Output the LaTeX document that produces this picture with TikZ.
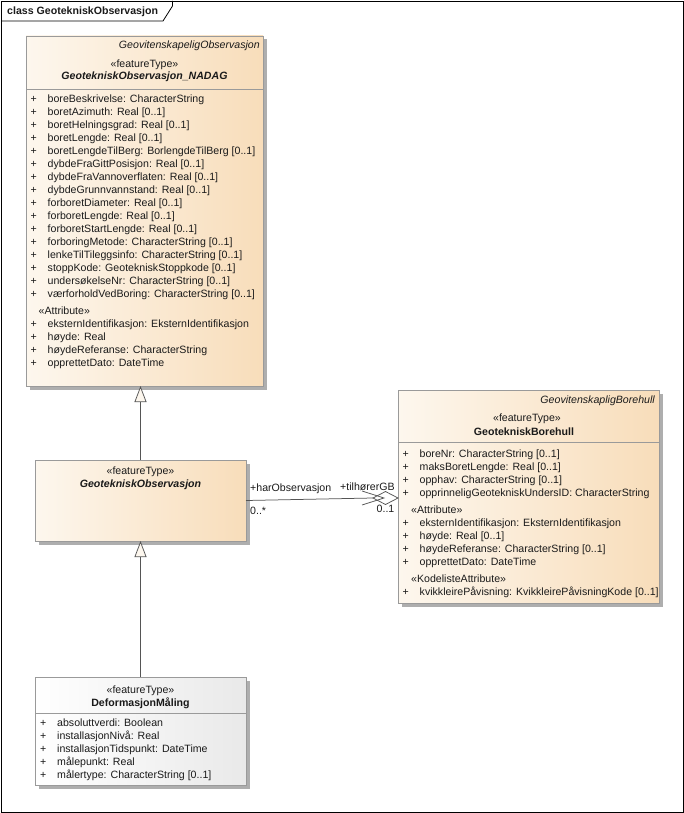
\documentclass[tikz,border=0pt]{standalone}
\usepackage{fontspec}
\setmainfont{Liberation Sans}
\usetikzlibrary{arrows.meta,shadows,calc}
\definecolor{peachL}{HTML}{FDF7EE}
\definecolor{peachR}{HTML}{F8DDBA}
\definecolor{grayL}{HTML}{FFFFFF}
\definecolor{grayR}{HTML}{E9E9E9}
\definecolor{boxline}{HTML}{9A9A9A}
\definecolor{shadowc}{HTML}{AEAEAE}
\definecolor{linec}{HTML}{555555}
\definecolor{txtc}{HTML}{1A1A1A}
\begin{document}
\begin{tikzpicture}[x=1pt,y=-1pt,
  font=\fontsize{10.6pt}{13pt}\selectfont,
  classbox/.style={draw=boxline, line width=0.7pt, inner sep=0pt, outer sep=0pt, anchor=north west,
    drop shadow={shadow xshift=3.5pt, shadow yshift=-3.5pt, opacity=1, fill=shadowc}},
  featbox/.style={classbox, left color=peachL, right color=peachR},
  whitebox/.style={classbox, left color=grayL, right color=grayR},
  txt/.style={inner sep=0pt, anchor=base west, text=txtc},
  ctxt/.style={inner sep=0pt, anchor=base, text=txtc},
  rtxt/.style={inner sep=0pt, anchor=base east, text=txtc},
  sep/.style={draw=boxline, line width=0.7pt},
  gen/.style={draw=linec, line width=0.75pt, -{Triangle[length=16pt,width=12pt,fill=peachL]}},
  assoc/.style={draw=linec, line width=0.75pt},
]
\useasboundingbox (0,0) rectangle (684,813);
% frame
\draw[line width=0.8pt] (1,1) rectangle (683,812);
\draw[line width=0.8pt] (1,21) -- (163,21) -- (172.5,6) -- (172.5,1);
\node[txt] (frametitle) at (7,14.5) {\bfseries class GeotekniskObservasjon};

% boxes
\node[featbox, minimum width=237pt, minimum height=350pt] (nadag) at (26,36) {};
\node[featbox, minimum width=211pt, minimum height=81pt] (go) at (35,460) {};
\node[featbox, minimum width=261pt, minimum height=213pt] (bh) at (398,390) {};
\node[whitebox, minimum width=211pt, minimum height=108pt] (def) at (35,677) {};

% separators
\draw[sep] ($(nadag.north west)+(0,53)$) -- ($(nadag.north east)+(0,53)$);
\draw[sep] ($(bh.north west)+(0,52.5)$) -- ($(bh.north east)+(0,52.5)$);
\draw[sep] ($(def.north west)+(0,36.5)$) -- ($(def.north east)+(0,36.5)$);

% NADAG header
\node[rtxt] (nadagpar) at (260,48.5) {\itshape GeovitenskapeligObservasjon};
\node[ctxt] (nadagst) at (144.5,67.5) {«featureType»};
\node[ctxt] (nadagname) at (144.5,79.5) {\bfseries\itshape GeotekniskObservasjon\_NADAG};
\foreach \t [count=\i] in {{boreBeskrivelse: CharacterString},
  {boretAzimuth: Real [0..1]},
  {boretHelningsgrad: Real [0..1]},
  {boretLengde: Real [0..1]},
  {boretLengdeTilBerg: BorlengdeTilBerg [0..1]},
  {dybdeFraGittPosisjon: Real [0..1]},
  {dybdeFraVannoverflaten: Real [0..1]},
  {dybdeGrunnvannstand: Real [0..1]},
  {forboretDiameter: Real [0..1]},
  {forboretLengde: Real [0..1]},
  {forboretStartLengde: Real [0..1]},
  {forboringMetode: CharacterString [0..1]},
  {lenkeTilTileggsinfo: CharacterString [0..1]},
  {stoppKode: GeotekniskStoppkode [0..1]},
  {undersøkelseNr: CharacterString [0..1]},
  {værforholdVedBoring: CharacterString [0..1]}} {
  \node[txt] (nap\i) at (30.5,{102.5+13*(\i-1)}) {+};
  \node[txt] (na\i) at (47.5,{102.5+13*(\i-1)}) {\t};
}
\node[txt] (nadagattr) at (38.5,314.5) {«Attribute»};
\foreach \t [count=\i] in {{eksternIdentifikasjon: EksternIdentifikasjon},
  {høyde: Real},
  {høydeReferanse: CharacterString},
  {opprettetDato: DateTime}} {
  \node[txt] (nbp\i) at (30.5,{327.5+13*(\i-1)}) {+};
  \node[txt] (nb\i) at (47.5,{327.5+13*(\i-1)}) {\t};
}

% GeotekniskObservasjon
\node[ctxt] (gost) at (140.5,474.3) {«featureType»};
\node[ctxt] (goname) at (140.5,487.3) {\bfseries\itshape GeotekniskObservasjon};

% Borehull
\node[rtxt] (bhpar) at (655,403.3) {\itshape GeovitenskapligBorehull};
\node[ctxt] (bhst) at (527,421.7) {«featureType»};
\node[ctxt] (bhname) at (524,435.7) {\bfseries GeotekniskBorehull};
\foreach \t [count=\i] in {{boreNr: CharacterString [0..1]},
  {maksBoretLengde: Real [0..1]},
  {opphav: CharacterString [0..1]},
  {opprinneligGeotekniskUndersID: CharacterString}} {
  \node[txt] (bap\i) at (402.5,{457+13*(\i-1)}) {+};
  \node[txt] (ba\i) at (419.5,{457+13*(\i-1)}) {\t};
}
\node[txt] (bhattr) at (411,513) {«Attribute»};
\foreach \t [count=\i] in {{eksternIdentifikasjon: EksternIdentifikasjon},
  {høyde: Real [0..1]},
  {høydeReferanse: CharacterString [0..1]},
  {opprettetDato: DateTime}} {
  \node[txt] (bbp\i) at (402.5,{526+13*(\i-1)}) {+};
  \node[txt] (bb\i) at (419.5,{526+13*(\i-1)}) {\t};
}
\node[txt] (bhkode) at (411,582) {«KodelisteAttribute»};
\node[txt] (bcp1) at (402.5,595) {+};
\node[txt] (bc1) at (419.5,595) {kvikkleirePåvisning: KvikkleirePåvisningKode [0..1]};

% DeformasjonMåling
\node[ctxt] (defst) at (140.5,693.8) {«featureType»};
\node[ctxt] (defname) at (140.5,706.5) {\bfseries DeformasjonMåling};
\foreach \t [count=\i] in {{absoluttverdi: Boolean},
  {installasjonNivå: Real},
  {installasjonTidspunkt: DateTime},
  {målepunkt: Real},
  {målertype: CharacterString [0..1]}} {
  \node[txt] (dp\i) at (40,{726.5+13*(\i-1)}) {+};
  \node[txt] (d\i) at (57,{726.5+13*(\i-1)}) {\t};
}

% generalizations
\draw[gen] (go.north) -- (go.north |- nadag.south);
\draw[gen] (def.north) -- (def.north |- go.south);

% association
\coordinate (bhA) at ([yshift=-1.5pt]bh.west);
\draw[assoc] (go.east) -- ($(bhA)+(-25,0)$);
\draw[assoc, fill=white] (bhA) -- ++(-12.5,-6.5) -- ++(-12.5,6.5) -- ++(12.5,6.5) -- cycle;
\draw[assoc] ($(bhA)+(-36,-7)$) -- ($(bhA)+(-14,0)$) -- ($(bhA)+(-36,7)$);
\node[txt] (lhar) at (250,491) {+harObservasjon};
\node[txt] (lharm) at (250,514.5) {0..*};
\node[txt] (ltil) at (340,490.5) {+tilhørerGB};
\node[txt] (ltilm) at (376.5,512.5) {0..1};
\end{tikzpicture}
\end{document}
